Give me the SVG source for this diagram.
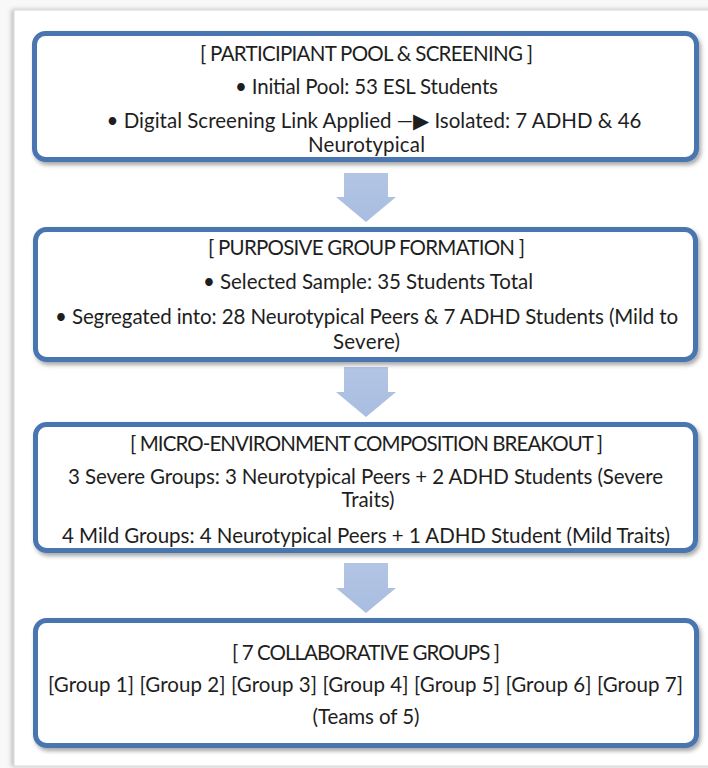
<svg xmlns="http://www.w3.org/2000/svg" width="708" height="768" viewBox="0 0 708 768">
  <defs>
    <filter id="shadow" x="-5%" y="-10%" width="110%" height="125%">
      <feDropShadow dx="2" dy="3" stdDeviation="2" flood-color="#000" flood-opacity="0.35"/>
    </filter>
    <filter id="pageShadow" x="-5%" y="-5%" width="110%" height="110%">
      <feDropShadow dx="-2" dy="0" stdDeviation="2" flood-color="#000" flood-opacity="0.25"/>
    </filter>
    <linearGradient id="arrowGrad" x1="0" y1="0" x2="0" y2="1">
      <stop offset="0" stop-color="#B3C5E4"/>
      <stop offset="1" stop-color="#A8BDE0"/>
    </linearGradient>
  </defs>
  <style>
    .box { fill: #ffffff; stroke: #4A76B0; stroke-width: 5; filter: url(#shadow); }
    .t { font-family: Lato, "Liberation Sans", sans-serif; font-size: 20.5px; fill: #1e1e1e; text-anchor: middle; }
    .arrow { fill: url(#arrowGrad); }
  </style>
  <rect x="0" y="0" width="708" height="768" fill="#f8f8f8"/>
  <rect x="14" y="10" width="700" height="756" fill="#ffffff" stroke="#d6d6d6" stroke-width="1" filter="url(#pageShadow)"/>

  <g id="connectors">
    <polygon class="arrow" points="344,173 388,173 388,197 396,197 366,222 336,197 344,197"/>
    <polygon class="arrow" points="344,367 388,367 388,392 396,392 366,417 336,392 344,392"/>
    <polygon class="arrow" points="344,563 388,563 388,588 396,588 366,613 336,588 344,588"/>
  </g>

  <g id="node1">
    <rect class="box" x="34.5" y="33.5" width="662" height="126" rx="11"/>
    <text class="t" x="366.5" y="61" textLength="333">[ PARTICIPIANT POOL &amp; SCREENING ]</text>
    <text class="t" x="366.5" y="93.5" textLength="263">• Initial Pool: 53 ESL Students</text>
    <text class="t" x="374" y="128" textLength="535">• Digital Screening Link Applied —▶ Isolated: 7 ADHD &amp; 46</text>
    <text class="t" x="366.5" y="151.5" textLength="117">Neurotypical</text>
  </g>

  <g id="node2">
    <rect class="box" x="35.5" y="229.5" width="660" height="130" rx="11"/>
    <text class="t" x="366.5" y="255" textLength="317">[ PURPOSIVE GROUP FORMATION ]</text>
    <text class="t" x="368" y="288.5" textLength="330">• Selected Sample: 35 Students Total</text>
    <text class="t" x="366.5" y="323.5" textLength="623">• Segregated into: 28 Neurotypical Peers &amp; 7 ADHD Students (Mild to</text>
    <text class="t" x="366.5" y="348.5" textLength="67">Severe)</text>
  </g>

  <g id="node3">
    <rect class="box" x="35.5" y="424.5" width="660" height="126" rx="11"/>
    <text class="t" x="366.5" y="451" textLength="473">[ MICRO-ENVIRONMENT COMPOSITION BREAKOUT ]</text>
    <text class="t" x="365.5" y="483.5" textLength="595">3 Severe Groups: 3 Neurotypical Peers + 2 ADHD Students (Severe</text>
    <text class="t" x="368" y="507" textLength="53">Traits)</text>
    <text class="t" x="366" y="543" textLength="608">4 Mild Groups: 4 Neurotypical Peers + 1 ADHD Student (Mild Traits)</text>
  </g>

  <g id="node4">
    <rect class="box" x="35.5" y="620.5" width="661" height="125" rx="11"/>
    <text class="t" x="366" y="660" textLength="268">[ 7 COLLABORATIVE GROUPS ]</text>
    <text class="t" x="365.5" y="692" textLength="635">[Group 1] [Group 2] [Group 3] [Group 4] [Group 5] [Group 6] [Group 7]</text>
    <text class="t" x="366" y="723.5" textLength="107">(Teams of 5)</text>
  </g>
</svg>
